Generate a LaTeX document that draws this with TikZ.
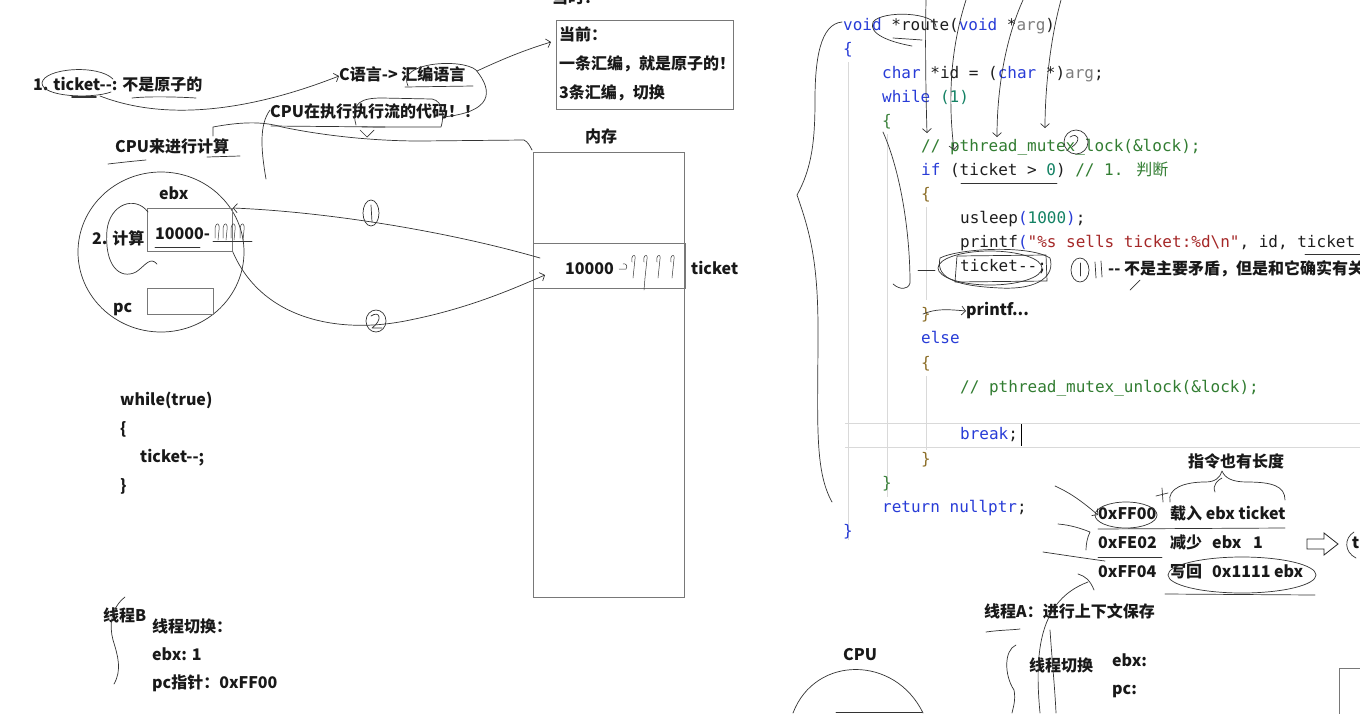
\documentclass[tikz,border=0pt]{standalone}
\usepackage{fontspec}
\newfontfamily\cjk{Noto Sans CJK SC}
\newfontfamily\codefont{DejaVu Sans Mono}
\usetikzlibrary{arrows.meta,shapes.geometric}
\definecolor{kw}{RGB}{40,60,215}
\definecolor{gr}{RGB}{125,125,125}
\definecolor{cm}{RGB}{50,125,50}
\definecolor{num}{RGB}{20,130,100}
\definecolor{st}{RGB}{165,40,40}
\definecolor{br}{RGB}{140,110,40}
\definecolor{br2}{RGB}{60,130,60}
\definecolor{ident}{RGB}{30,30,30}
\definecolor{boxc}{RGB}{120,120,120}
\begin{document}
\begin{tikzpicture}[x=1pt,y=-1pt,
  lbl/.style={anchor=west, inner sep=0pt, text height=12.5pt, text depth=3pt, font=\cjk\bfseries\fontsize{16}{19}\selectfont, text=black!90},
  code/.style={anchor=west, inner sep=0pt, text height=11.5pt, text depth=3.5pt, font=\codefont\fontsize{16}{19}\selectfont, text=ident},
  hand/.style={draw=black!80, line width=0.7pt, line cap=round, line join=round},
  tip/.style={-{Straight Barb[length=4pt,width=9pt]}},
  gbox/.style={draw=boxc, line width=0.8pt, inner sep=0pt, anchor=north west},
  guide/.style={draw=black!15, line width=0.8pt}]
\useasboundingbox (0,0) rectangle (1360,713);
\fill[white] (0,0) rectangle (1360,713);

% ---------------- left: notes ----------------
\node[lbl] (n1) at (33,86) {1. ticket-{}-: 不是原子的};
\node[lbl] (clang) at (339,76) {C语言-> 汇编语言};
\node[lbl] (cpuexec) at (270,113) {CPU在执行执行流的代码！！};
\node[lbl] (cpucalc) at (115,148) {CPU来进行计算};
\node[lbl] (then) at (552,-1) {当时：};

\node[gbox, minimum width=177pt, minimum height=89pt] (notebox) at (556,20) {};
\node[lbl] (nb1) at (559,36) {当前：};
\node[lbl] (nb2) at (559,65) {一条汇编，就是原子的！};
\node[lbl] (nb3) at (559,94) {3条汇编，切换};

\node[lbl] (memlbl) at (585,138) {内存};
\node[gbox, minimum width=151pt, minimum height=445pt] (mem) at (533,152) {};
\node[gbox, minimum width=152pt, minimum height=45pt] (row) at (533,243) {};
\node[lbl] (memval) at (565,270) {10000};
\node[lbl] (ticketlbl) at (691,270) {ticket};

% CPU circle
\node[draw=black!80, line width=0.7pt, ellipse, minimum width=166pt, minimum height=160pt] (cpu) at (161,252) {};
\node[lbl] (ebxlbl) at (159,195) {ebx};
\node[gbox, minimum width=85pt, minimum height=43pt] (ebxbox) at (147,208) {};
\node[lbl] (ebxval) at (155,235) {10000-};
\node[lbl] (calc) at (92,240) {2. 计算};
\node[gbox, minimum width=66pt, minimum height=26pt] (pcbox) at (147,288) {};
\node[lbl] (pclbl) at (113,308) {pc};

% while loop
\node[lbl] (w1) at (120,401) {while(true)};
\node[lbl] (w2) at (120,430) {\{};
\node[lbl] (w3) at (140,458) {ticket-{}-;};
\node[lbl] (w4) at (120,487) {\}};

\node[lbl] (thb) at (103,617) {线程B};
\node[lbl] (thb1) at (152,628) {线程切换：};
\node[lbl] (thb2) at (152,656) {ebx: 1};
\node[lbl] (thb3) at (152,684) {pc指针：0xFF00};

% left strokes
\draw[hand] (113,79) .. controls (98,64) and (44,68) .. (42,83) .. controls (42,97) and (92,99) .. (111,92);
\draw[hand, line width=1.6pt] (72,97) -- (96,97);
\draw[hand] (132,98) .. controls (150,96) and (180,97) .. (196,98);
\draw[hand, tip] (100,96) .. controls (175,125) and (265,105) .. (clang.west);
\draw[hand] (408,86) .. controls (396,62) and (462,58) .. (476,70) .. controls (494,92) and (492,112) .. (443,117);
\draw[hand] (405,87) -- (473,86);
\draw[hand, tip] (477,71) .. controls (505,58) and (525,50) .. (551,42);
\draw[hand] (356,125) .. controls (350,102) and (362,98) .. (382,98) -- (432,99) .. controls (444,101) and (444,118) .. (441,127) -- (362,127);
\draw[hand] (271,126) -- (385,127);
\draw[hand] (360,130) -- (367,137) -- (374,130);
\draw[hand] (213,136) -- (213,127) .. controls (240,122) and (262,121) .. (282,127) .. controls (330,137) and (380,141) .. (420,141) -- (524,140) .. controls (528,142) and (530,146) .. (532,150);
\draw[hand] (270,110) .. controls (259,125) and (261,150) .. (266,179);
\draw[hand] (207,157) -- (240,156);
\draw[hand] (108,164) .. controls (125,162) and (135,161) .. (146,160);

% CPU details
\draw[hand] (148,212) .. controls (135,195) and (110,204) .. (107,230) .. controls (104,266) and (120,280) .. (136,272) .. controls (145,266) and (150,256) .. (157,264);
\draw[hand] (155,247) -- (200,247);
\foreach \xx in {218,226,234,243}{\draw[hand, line width=0.5pt] (\xx-3,238) -- (\xx-3,228) .. controls (\xx-2,222) and (\xx+2,222) .. (\xx+1,230) -- (\xx,240);}
\draw[hand] (213,241) -- (252,241);

% arrows 1 and 2
\coordinate (a1s) at (540,258);
\coordinate (a2e) at (545,275);
\draw[hand, tip] (a1s) .. controls (450,232) and (330,212) .. (ebxbox.north east);
\draw[hand] (371,213) ellipse [x radius=8, y radius=13];
\draw[hand] (371,205) -- (372,222);
\draw[hand, tip] (ebxbox.south east) .. controls (262,320) and (340,335) .. (410,320) .. controls (470,308) and (515,288) .. (a2e);
\draw[hand] (376,321) ellipse [x radius=10, y radius=11];
\draw[hand] (371,316) .. controls (380,310) and (383,320) .. (372,328) -- (382,328);
\draw[hand, line width=0.5pt] (619,269) -- (626,269) .. controls (628,266) and (626,263) .. (623,264);
\foreach \xx in {632,644,657,671}{\draw[hand, line width=0.5pt] (\xx,262) .. controls (\xx-2,256) and (\xx+4,252) .. (\xx+3,259) -- (\xx+1,278);}
\draw[hand, line width=0.5pt] (645,278) -- (644,290);

% 线程B stroke
\draw[hand] (125,597) .. controls (111,608) and (109,625) .. (113,640) .. controls (118,656) and (122,670) .. (114,684);

% ---------------- right: code ----------------
\draw[guide] (848,62) -- (848,540);
\draw[guide] (887,134) -- (887,497);
\draw[guide] (926,207) -- (926,300);
\draw[guide] (926,376) -- (926,450);
\draw[guide] (845,423) -- (1360,423);
\draw[guide] (845,447) -- (1360,447);

\node[code] (c1) at (843,26) {\textcolor{kw}{void} *route(\textcolor{kw}{void} *\textcolor{gr}{arg})};
\node[code] (c2) at (843,50) {\textcolor{kw}{\{}};
\node[code] (c3) at (882,74) {\textcolor{kw}{char} *id = (\textcolor{kw}{char} *)\textcolor{gr}{arg};};
\node[code] (c4) at (882,98) {\textcolor{kw}{while} \textcolor{num}{(1)}};
\node[code] (c5) at (882,122) {\textcolor{br2}{\{}};
\node[code] (c6) at (921,147) {\textcolor{cm}{// pthread\_mutex\_lock(\&lock);}};
\node[code] (c7) at (921,171) {\textcolor{kw}{if} (ticket > \textcolor{num}{0}) \textcolor{cm}{// 1. {\cjk 判断}}};
\node[code] (c8) at (921,195) {\textcolor{br}{\{}};
\node[code] (c9) at (960,219) {usleep\textcolor{kw}{(}\textcolor{num}{1000}\textcolor{kw}{)};};
\node[code] (c10) at (960,243) {printf\textcolor{kw}{(}\textcolor{st}{"\%s sells ticket:\%d\textbackslash n"}, id, ticket};
\node[code] (c11) at (960,267) {ticket-{}-;};
\node[code] (c12) at (921,315) {\textcolor{br}{\}}};
\node[code] (c13) at (921,339) {\textcolor{kw}{else}};
\node[code] (c14) at (921,364) {\textcolor{br}{\{}};
\node[code] (c15) at (960,388) {\textcolor{cm}{// pthread\_mutex\_unlock(\&lock);}};
\node[code] (c16) at (960,435) {\textcolor{kw}{break};};
\node[code] (c17) at (921,460) {\textcolor{br}{\}}};
\node[code] (c18) at (882,484) {\textcolor{br2}{\}}};
\node[code] (c19) at (882,508) {\textcolor{kw}{return nullptr};};
\node[code] (c20) at (843,532) {\textcolor{kw}{\}}};
\draw[black, line width=1pt] (1021,424) -- (1021,446);

\node[lbl] (note1) at (1108,270) {-{}- 不是主要矛盾，但是和它确实有关};
\node[lbl] (pf) at (966,311) {printf...};

% code strokes
\draw[hand] (842,22) .. controls (820,24) and (815,60) .. (815,100) .. controls (815,140) and (812,168) .. (797,195) .. controls (810,232) and (818,262) .. (818,330) .. controls (818,420) and (814,470) .. (832,502);
\draw[hand] (936,27) .. controls (936,12) and (882,10) .. (873,22) .. controls (868,34) and (890,42) .. (912,46);
\draw[hand] (893,38) -- (922,40);
\draw[hand, tip] (926,0) .. controls (925,50) and (926,100) .. (927,133);
\draw[hand, tip] (966,0) .. controls (950,50) and (948,100) .. (954,150);
\draw[hand, tip] (1023,0) .. controls (1005,40) and (997,90) .. (997,137);
\draw[hand, tip] (1061,0) .. controls (1050,40) and (1045,90) .. (1045,128);
\draw[hand] (1076,142) circle [radius=12];
\draw[hand] (1070,137) .. controls (1078,132) and (1082,140) .. (1072,147);
\draw[hand] (961,183) -- (1057,183);
\draw[hand] (883,132) .. controls (900,170) and (910,230) .. (910,283) .. controls (908,290) and (900,290) .. (893,284);
\draw[hand] (990,268) ellipse [x radius=52, y radius=17];
\draw[hand] (957,256) -- (1046,255) -- (1047,281) -- (955,282) -- cycle;
\draw[hand] (940,258) .. controls (960,248) and (1030,245) .. (1050,258) .. controls (1055,275) and (1040,290) .. (1000,288) .. controls (960,286) and (935,280) .. (940,258);
\draw[hand] (918,270) -- (935,270);
\draw[hand] (1080,270) ellipse [x radius=9, y radius=12];
\draw[hand] (1080,263) -- (1080,276);
\draw[hand] (1095,262) -- (1096,278);
\draw[hand] (1101,261) -- (1102,277);
\draw[hand] (1130,290) -- (1140,280);
\draw[hand] (1305,254) -- (1360,254);
\draw[hand, tip] (923,314) .. controls (935,309) and (945,309) .. (pf.west);

% ---------------- right bottom ----------------
\node[lbl] (len) at (1188,463) {指令也有长度};
\node[lbl] (a1) at (1098,515) {0xFF00};
\node[lbl] (o1) at (1170,515) {载入 ebx ticket};
\node[lbl] (a2) at (1098,544) {0xFE02};
\node[lbl] (o2) at (1170,544) {减少};
\node[lbl] (o2b) at (1212,544) {ebx};
\node[lbl] (o2c) at (1253,544) {1};
\node[lbl] (a3) at (1098,573) {0xFF04};
\node[lbl] (o3) at (1170,573) {写回};
\node[lbl] (o3b) at (1212,573) {0x1111 ebx};
\node[lbl] (tha) at (984,613) {线程A：进行上下文保存};
\node[lbl] (thsw) at (1029,667) {线程切换};
\node[lbl] (ebxa) at (1112,662) {ebx:};
\node[lbl] (pca) at (1112,690) {pc:};
\node[lbl] (tcut) at (1352,544) {t};
\node[lbl] (cpu2) at (843,656) {CPU};

\draw[hand] (1126,515) ellipse [x radius=31, y radius=13];
\draw[hand] (1098,529) -- (1285,528);
\draw[hand] (1098,557) -- (1162,557);
\draw[hand] (1242,575) ellipse [x radius=74, y radius=18];
\draw[hand] (1165,594) -- (1315,595);
\draw[hand] (1170,502) .. controls (1167,488) and (1185,482) .. (1205,482) .. controls (1215,482) and (1220,478) .. (1222,471) .. controls (1225,478) and (1232,482) .. (1247,482) .. controls (1272,482) and (1285,486) .. (1285,500);
\draw[hand] (1215,492) .. controls (1212,485) and (1218,480) .. (1222,478);
\draw[hand] (1156,496) -- (1168,493);
\draw[hand] (1162,488) -- (1163,502);
\draw[hand, tip] (1055,486) .. controls (1068,492) and (1078,498) .. (a1.west);
\draw[hand] (1058,524) .. controls (1070,525) and (1080,528) .. (1090,532) .. controls (1087,538) and (1086,545) .. (1086,550);
\draw[hand] (1043,552) .. controls (1070,556) and (1090,559) .. (1105,561);
\draw[hand] (1040,713) .. controls (1034,650) and (1040,600) .. (1088,582);
\draw[hand] (1078,574) .. controls (1085,576) and (1090,580) .. (1094,590);
\draw[hand] (986,632) .. controls (1000,630) and (1012,630) .. (1020,629);
\draw[hand] (1016,645) .. controls (1004,650) and (1004,675) .. (1014,690) .. controls (1016,700) and (1013,708) .. (1012,713);
\draw[hand] (1050,630) .. controls (1052,660) and (1055,690) .. (1056,713);
\draw[draw=black!85, line width=0.8pt] (1307,539) -- (1324,539) -- (1324,533) -- (1338,544) -- (1324,555) -- (1324,549) -- (1307,549) -- cycle;
\draw[hand] (1354,532) .. controls (1344,538) and (1344,552) .. (1356,558);
\draw[boxc, line width=0.8pt] (1339,720) -- (1339,668) -- (1365,668);
\draw[hand] (793,713) .. controls (815,655) and (895,655) .. (923,713);
\draw[hand] (836,712) -- (922,712);
\end{tikzpicture}
\end{document}
